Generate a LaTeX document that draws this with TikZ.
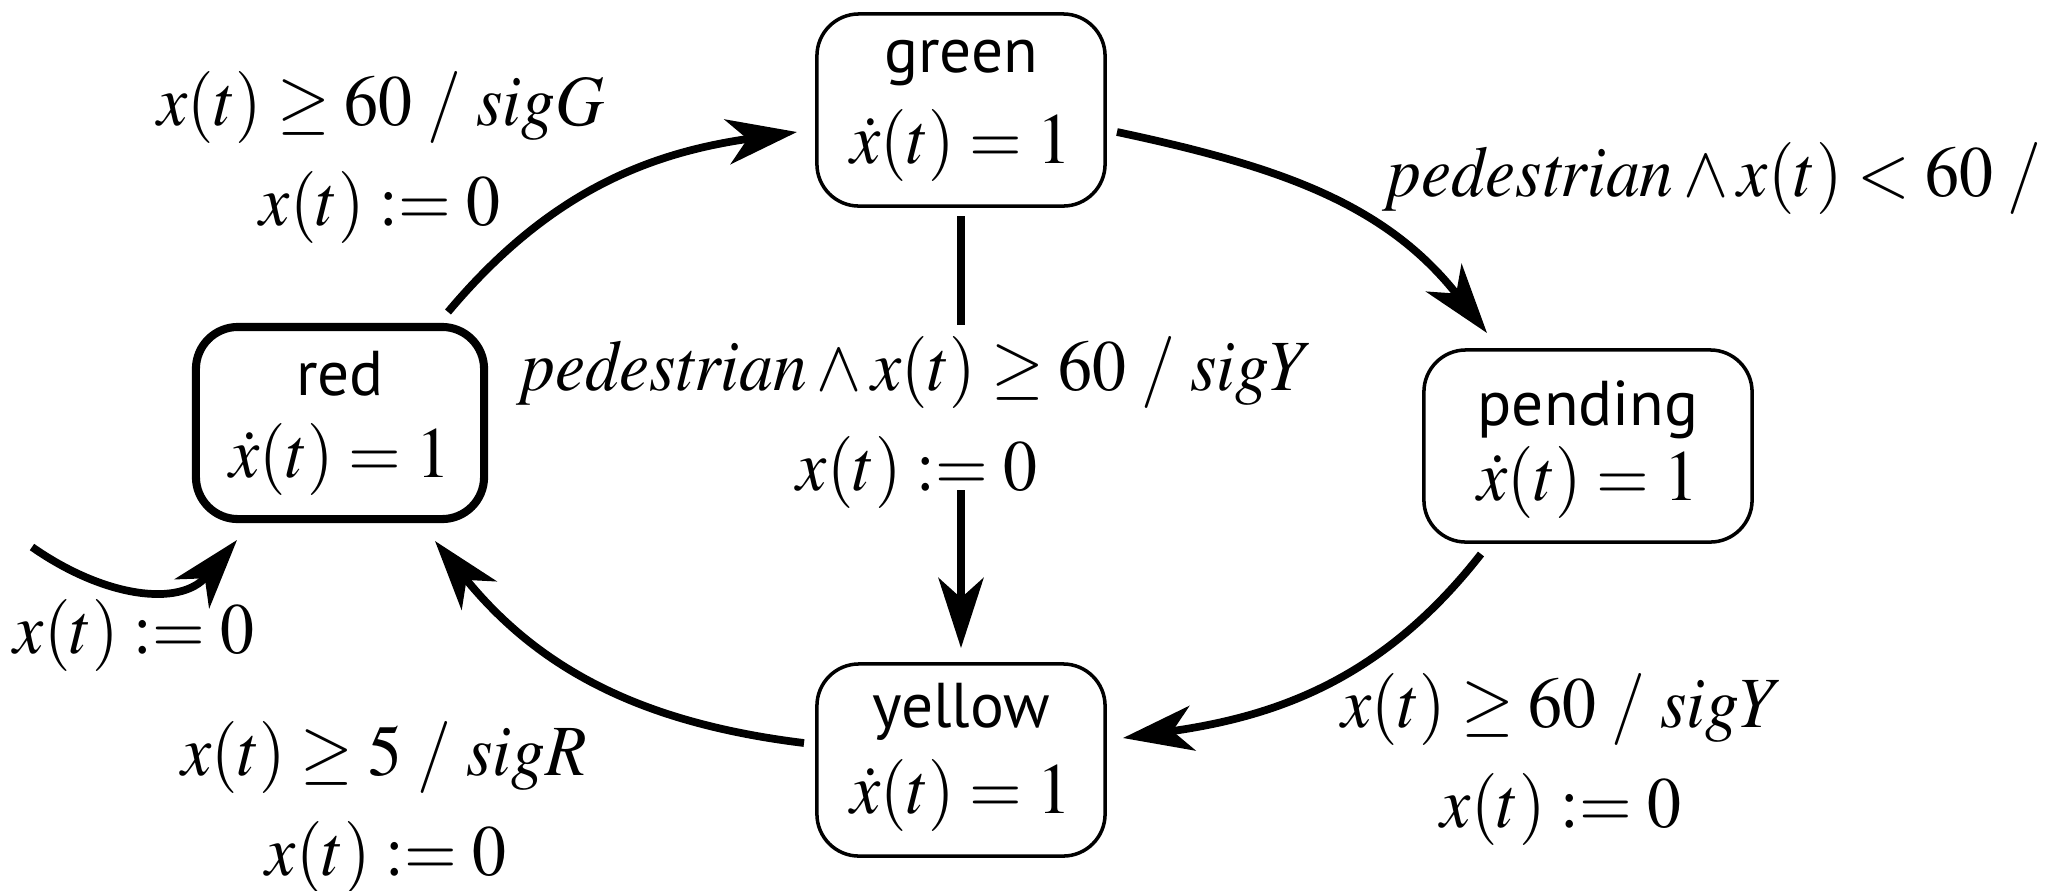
\documentclass[tikz,border=0pt]{standalone}
\usepackage[no-math]{fontspec}
\usepackage{mathptmx}
\usepackage{graphicx}
\setmainfont{Liberation Serif}
\setsansfont{PT Sans}
\usetikzlibrary{arrows.meta}
\newcommand\mymath[1]{\scalebox{0.94}[1]{$#1$}}
% #1 name, #2 raise of name, #3 math, #4 raise of math
\newcommand\stlines[4]{\makebox[0pt]{\raisebox{#2}[0pt][0pt]{\fontsize{18pt}{22pt}\selectfont\sffamily #1}}\makebox[0pt]{\raisebox{#4}[0pt][0pt]{\mymath{#3}}}}
\begin{document}
\begin{tikzpicture}[x=0.01cm, y=0.01cm,
  stbox/.style={draw, rounded corners=0.42cm, line width=1pt, minimum width=2.88cm, minimum height=1.92cm, inner sep=0pt, font=\fontsize{20.5pt}{25pt}\selectfont},
  txt/.style={inner sep=0pt, anchor=base, font=\fontsize{20.5pt}{25pt}\selectfont},
  conn/.style={line width=2.2pt, -{Stealth[length=0.7cm,width=0.45cm,inset=0.2cm]}},
  trline/.style={line width=2.2pt}]
\useasboundingbox (0,0) rectangle (2045,-890);

% states
\node[stbox] (green) at (961,-110) {\stlines{green}{0.37cm}{\dot x(t)=1}{-0.53cm}};
\node[stbox, line width=2.3pt] (red) at (340,-423) {\stlines{red}{0.27cm}{\dot x(t)=1}{-0.54cm}};
\node[stbox, minimum width=3.28cm] (pending) at (1588,-446) {\stlines{pending}{0.21cm}{\dot x(t)=1}{-0.54cm}};
\node[stbox] (yellow) at (961,-760) {\stlines{yellow}{0.33cm}{\dot x(t)=1}{-0.53cm}};

% labels
\node[txt] (lGa) at (381,-125) {\mymath{x(t) \geq 60\;/\;sigG}};
\node[txt] (lGb) at (380,-225) {\mymath{x(t) := 0}};
\node[txt, anchor=base west] (lP) at (1387,-196) {\mymath{\mathit{pedestrian} \wedge x(t) < 60\;/}};
\node[txt] (lYa) at (917,-390) {\mymath{\mathit{pedestrian} \wedge x(t) \geq 60\;/\;sigY}};
\node[txt] (lYb) at (917,-490) {\mymath{x(t) := 0}};
\node[txt] (lY2a) at (1562,-727) {\mymath{x(t) \geq 60\;/\;sigY}};
\node[txt] (lY2b) at (1561,-827) {\mymath{x(t) := 0}};
\node[txt] (lRa) at (384,-775) {\mymath{x(t) \geq 5\;/\;sigR}};
\node[txt] (lRb) at (386,-875) {\mymath{x(t) := 0}};
\node[txt] (lI) at (134,-653) {\mymath{x(t) := 0}};

% transitions
\draw[conn] ([shift={(108,111)}]red.center) to[out=50,in=188] ([shift={(-164,-22)}]green.center);
\draw[conn] ([shift={(156,-22)}]green.center) to[out=-12,in=128] ([shift={(-101,113)}]pending.center);
\draw[conn] ([shift={(-107,-108)}]pending.center) to[out=232,in=8] ([shift={(162,22)}]yellow.center);
\draw[conn] ([shift={(-157,17)}]yellow.center) to[out=173,in=-51] ([shift={(95,-118)}]red.center);
\draw[trline] ([shift={(0,-106)}]green.center) -- ([shift={(0,-215)}]green.center);
\draw[conn] ([shift={(0,270)}]yellow.center) -- ([shift={(0,112)}]yellow.center);
\coordinate (init) at (32,-547);
\draw[conn] (init) to[out=-35,in=230,looseness=1.1] ([shift={(-103,-117)}]red.center);
\end{tikzpicture}
\end{document}
